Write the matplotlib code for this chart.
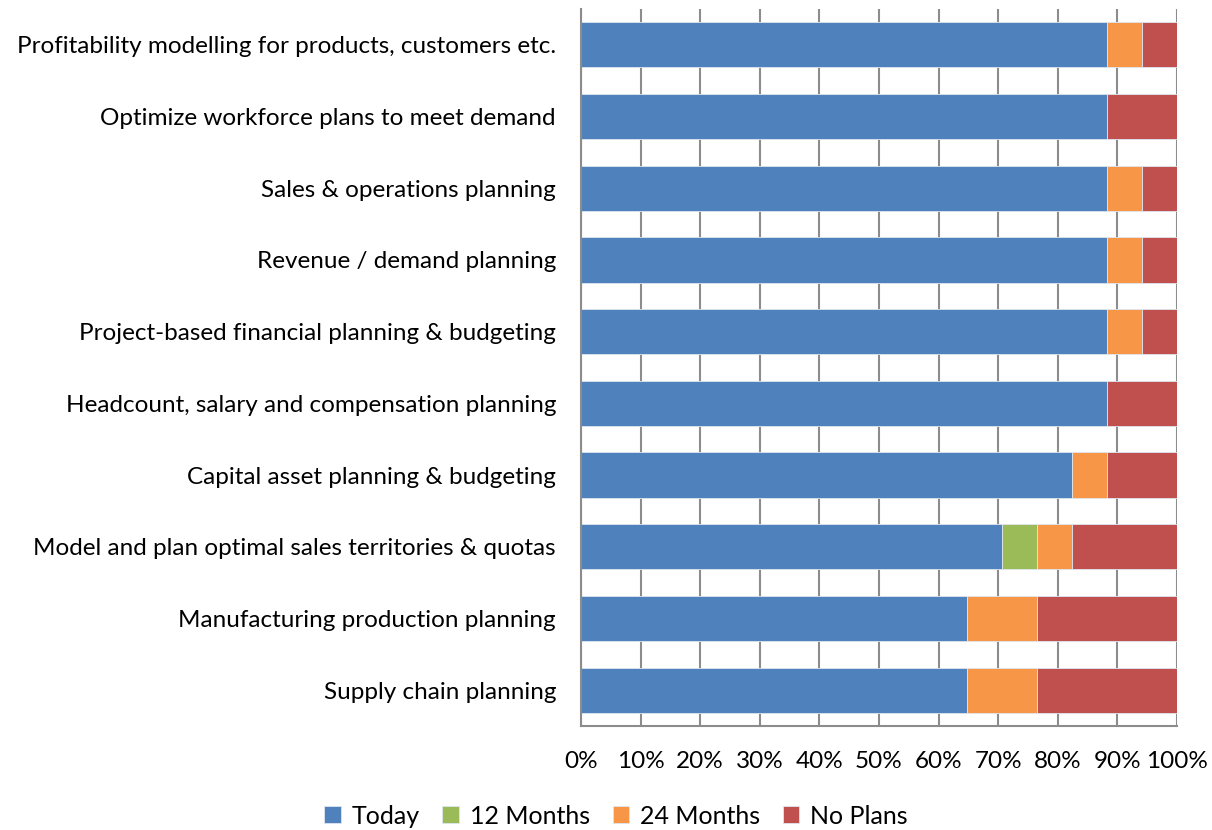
import matplotlib.pyplot as plt
import numpy as np

# categories, bottom to top
categories = [
    'Supply chain planning',
    'Manufacturing production planning',
    'Model and plan optimal sales territories & quotas',
    'Capital asset planning & budgeting',
    'Headcount, salary and compensation planning',
    'Project-based financial planning & budgeting',
    'Revenue / demand planning',
    'Sales & operations planning',
    'Optimize workforce plans to meet demand',
    'Profitability modelling for products, customers etc.',
]

# percentage shares
today = [64.7, 64.7, 70.6, 82.4, 88.2, 88.2, 88.2, 88.2, 88.2, 88.2]
months_12 = [0, 0, 5.9, 0, 0, 0, 0, 0, 0, 0]
months_24 = [11.8, 11.8, 5.9, 5.9, 0, 5.9, 5.9, 5.9, 0, 5.9]
no_plans = [23.5, 23.5, 17.6, 11.8, 11.8, 5.9, 5.9, 5.9, 11.8, 5.9]

series = [('Today', today, '#4F81BD'),
          ('12 Months', months_12, '#9BBB59'),
          ('24 Months', months_24, '#F79646'),
          ('No Plans', no_plans, '#C0504D')]

plt.rcParams['font.family'] = ['Lato', 'DejaVu Sans']

fig = plt.figure(figsize=(12.12, 8.3), dpi=100)
ax = fig.add_axes([581 / 1212, 1 - 726 / 830, 596 / 1212, 717 / 830])

y = np.arange(len(categories))
left = np.zeros(len(categories))
for name, vals, col in series:
    vals = np.array(vals)
    ax.barh(y, vals, left=left, height=0.63, color=col, label=name,
            edgecolor='#dfe6ef', linewidth=0.6, zorder=2)
    left = left + vals

ax.set_xlim(0, 100)
ax.set_ylim(-0.5, len(categories) - 0.5)
ax.set_xticks(np.arange(0, 101, 10))
ax.set_xticklabels(['%d%%' % v for v in range(0, 101, 10)], fontsize=17.5)
ax.set_yticks(y)
ax.set_yticklabels(categories, fontsize=17.5)
ax.tick_params(axis='both', length=0, colors='black')
ax.tick_params(axis='y', pad=18)
ax.tick_params(axis='x', pad=18)
ax.grid(axis='x', color='#8c8c8c', linewidth=1.5, zorder=0)
ax.set_axisbelow(True)
for s in ['top', 'right']:
    ax.spines[s].set_visible(False)
for s in ['left', 'bottom']:
    ax.spines[s].set_color('#8c8c8c')
    ax.spines[s].set_linewidth(1.5)

fig.legend(loc='center', bbox_to_anchor=(616 / 1212, 1 - 816 / 830), ncol=4,
           frameon=False, fontsize=18, handlelength=0.65, handleheight=0.65,
           handletextpad=0.45, columnspacing=0.9)

plt.savefig('out.png', dpi=100)
